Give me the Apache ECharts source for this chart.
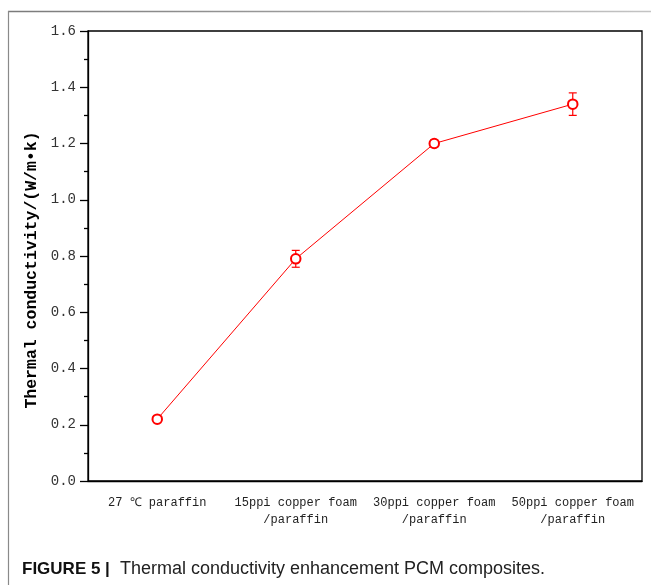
<!DOCTYPE html>
<html>
<head>
<meta charset="utf-8">
<style>
  html, body { margin: 0; padding: 0; background: #fff; }
  #chart { width: 651px; height: 585px; }
</style>
<script src="https://cdn.jsdelivr.net/npm/echarts@6/dist/echarts.min.js"></script>
</head>
<body>
<div id="chart"></div>
<script>
// Sample groups on the x axis
const categories = [
  '27 \u2103 paraffin',
  '15ppi copper foam\n/paraffin',
  '30ppi copper foam\n/paraffin',
  '50ppi copper foam\n/paraffin'
];
// Mean thermal conductivity, W/(m·K)
const conductivity = [0.22, 0.79, 1.20, 1.34];
// Standard deviation for each group
const errors = [0.01, 0.03, 0.012, 0.04];
// Y tick range
const yMin = 0, yMax = 1.6, yStep = 0.2;

const RED = '#ff0000';
const monoFont = '"Liberation Mono", "DejaVu Sans Mono", monospace';
const sansFont = '"Liberation Sans", Arial, sans-serif';

const chart = echarts.init(document.getElementById('chart'), null, { renderer: 'canvas' });

const errorData = conductivity.map((v, i) => [i, v - errors[i], v + errors[i]]);

chart.setOption({
  backgroundColor: '#fff',
  animation: false,
  grid: {
    left: 88, right: 9, top: 31, bottom: 104,
    show: true, borderColor: '#000', borderWidth: 1.3, backgroundColor: 'transparent'
  },
  xAxis: [
    {
      type: 'category',
      data: categories,
      boundaryGap: true,
      axisLine: { lineStyle: { color: '#000', width: 1.3 } },
      axisTick: { alignWithLabel: true, length: 8, lineStyle: { color: '#000', width: 1.3 } },
      axisLabel: {
        interval: 0, margin: 13, color: '#222',
        fontFamily: monoFont, fontSize: 12, lineHeight: 17, align: 'center'
      },
      splitLine: { show: false }
    },
    {
      type: 'category',
      data: categories,
      boundaryGap: true,
      position: 'bottom',
      axisLine: { show: false },
      axisTick: { length: 4, lineStyle: { color: '#000', width: 1.3 } },
      axisLabel: { show: false },
      splitLine: { show: false }
    }
  ],
  yAxis: {
    type: 'value',
    min: yMin, max: yMax, interval: yStep,
    name: 'Thermal conductivity/(W/m\u2022k)',
    nameLocation: 'middle',
    nameGap: 46,
    nameTextStyle: {
      fontFamily: monoFont, fontWeight: 'bold', fontSize: 16.5, color: '#000',
      padding: [0, 28, 0, 0]
    },
    axisLine: { show: true, lineStyle: { color: '#000', width: 1.3 } },
    axisTick: { show: true, length: 8, lineStyle: { color: '#000', width: 1.3 } },
    minorTick: { show: true, splitNumber: 2, length: 4, lineStyle: { color: '#000', width: 1.3 } },
    axisLabel: {
      margin: 12, color: '#333', fontFamily: monoFont, fontSize: 14,
      formatter: v => v.toFixed(1)
    },
    splitLine: { show: false }
  },
  series: [
    {
      type: 'custom',
      name: 'error',
      z: 1,
      data: errorData,
      renderItem: (params, api) => {
        const x = api.value(0);
        const lo = api.coord([x, api.value(1)]);
        const hi = api.coord([x, api.value(2)]);
        const hw = 4;
        const style = { stroke: RED, lineWidth: 1.2 };
        return {
          type: 'group',
          children: [
            { type: 'line', shape: { x1: lo[0], y1: lo[1], x2: hi[0], y2: hi[1] }, style },
            { type: 'line', shape: { x1: lo[0] - hw, y1: lo[1], x2: lo[0] + hw, y2: lo[1] }, style },
            { type: 'line', shape: { x1: hi[0] - hw, y1: hi[1], x2: hi[0] + hw, y2: hi[1] }, style }
          ]
        };
      }
    },
    {
      type: 'line',
      z: 3,
      data: conductivity,
      symbol: 'emptyCircle',
      symbolSize: 9.5,
      lineStyle: { color: RED, width: 1 },
      itemStyle: { color: RED, borderColor: RED, borderWidth: 1.3 }
    }
  ],
  graphic: [
    {
      type: 'line', silent: true,
      shape: { x1: 8, y1: 11.5, x2: 651, y2: 11.5 },
      style: {
        lineWidth: 1.5,
        stroke: new echarts.graphic.LinearGradient(0, 0, 1, 0, [
          { offset: 0, color: '#7a7a7a' }, { offset: 1, color: '#c4c4c4' }
        ])
      }
    },
    {
      type: 'line', silent: true,
      shape: { x1: 8.5, y1: 11, x2: 8.5, y2: 585 },
      style: { stroke: '#8a8a8a', lineWidth: 1.2 }
    },
    {
      type: 'text', left: 22, top: 560,
      style: {
        rich: {
          b: { fontFamily: sansFont, fontWeight: 'bold', fontSize: 17, fill: '#111' },
          n: { fontFamily: sansFont, fontSize: 18, fill: '#222' }
        },
        text: '{b|FIGURE 5 |}{n|  Thermal conductivity enhancement PCM composites.}'
      }
    }
  ]
});
</script>
</body>
</html>
